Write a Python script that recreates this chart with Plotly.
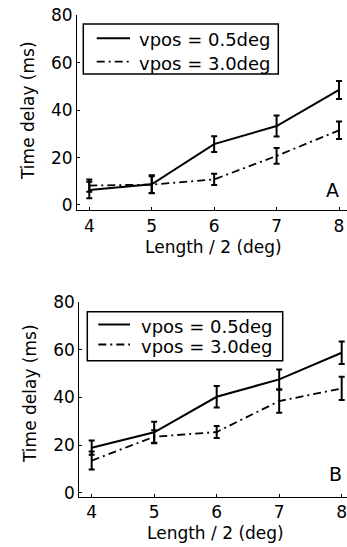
import plotly.graph_objects as go

# ---- data ----
lengths = [4, 5, 6, 7, 8]
ticks_y = [0, 20, 40, 60, 80]

a_solid = [6.3, 8.7, 25.7, 33.3, 48.5]
a_solid_err = [3.5, 3.8, 3.3, 4.4, 3.8]
a_dash = [8.2, 8.6, 10.8, 20.7, 31.5]
a_dash_err = [2.6, 3.5, 2.4, 3.3, 3.7]

b_solid = [18.9, 25.4, 40.3, 47.6, 58.8]
b_solid_err = [3.0, 4.4, 4.5, 4.2, 4.7]
b_dash = [13.5, 23.5, 25.5, 38.5, 43.8]
b_dash_err = [3.8, 2.7, 2.5, 4.9, 4.9]

label_solid = "vpos = 0.5deg"
label_dash = "vpos = 3.0deg"

FONT = "DejaVu Sans"
FS = 17
LFS = 18
DASH = "8px,4px,2px,4px"
W, H = 347, 547

fig = go.Figure()

def add(x, y, e, dash, name, xa, ya):
    fig.add_trace(go.Scatter(
        x=x, y=y, mode="lines", name=name,
        line=dict(color="black", width=2 if dash == "solid" else 1.8, dash=dash),
        error_y=dict(type="data", array=e, visible=True, color="black", thickness=2, width=3),
        xaxis=xa, yaxis=ya, showlegend=False))

add(lengths, a_solid, a_solid_err, "solid", label_solid, "x", "y")
add(lengths, a_dash, a_dash_err, DASH, label_dash, "x", "y")
add(lengths, b_solid, b_solid_err, "solid", label_solid, "x2", "y2")
add(lengths, b_dash, b_dash_err, DASH, label_dash, "x2", "y2")

axis_common = dict(showgrid=False, zeroline=False, showline=True, linecolor="black", linewidth=1,
                   ticks="inside", ticklen=3, tickcolor="black", mirror=False,
                   tickfont=dict(family=FONT, size=FS, color="black"), automargin=False,
                   ticklabeloverflow="allow")

fig.update_layout(
    width=W, height=H,
    margin=dict(l=0, r=0, t=0, b=0),
    paper_bgcolor="white", plot_bgcolor="white",
    font=dict(family=FONT, size=FS, color="black"),
    showlegend=False,
    xaxis=dict(domain=[77 / W, 1], range=[3.803, 8.128], tickvals=lengths, anchor="y", **axis_common),
    yaxis=dict(domain=[(H - 210.3) / H, (H - 15.3) / H], range=[-2.24, 80], tickvals=ticks_y, anchor="x", **axis_common),
    xaxis2=dict(domain=[79.3 / W, 1], range=[3.802, 8.085], tickvals=lengths, anchor="y2", **axis_common),
    yaxis2=dict(domain=[(H - 496.7) / H, (H - 302.3) / H], range=[-1.68, 80], tickvals=ticks_y, anchor="x2", **axis_common),
)

def px(x):
    return x / W

def py(y):
    return (H - y) / H

# legend boxes drawn in pixel positions (box, line samples, labels)
legends = [
    dict(box=(83.3, 24, 278.3, 74), lx=(96.7, 130), ly=(38.3, 61.7), tx=137, ty=(40, 64)),
    dict(box=(87.3, 311.7, 282.7, 360.7), lx=(98.3, 130), ly=(324.5, 344.5), tx=139, ty=(326.5, 346.5)),
]
for lg in legends:
    x0, y0, x1, y1 = lg["box"]
    fig.add_shape(type="rect", xref="paper", yref="paper", x0=px(x0), x1=px(x1), y0=py(y1), y1=py(y0),
                  line=dict(color="black", width=1.5), fillcolor="white", layer="above")
    for ly, dash, ty, lab in zip(lg["ly"], ["solid", DASH], lg["ty"], [label_solid, label_dash]):
        fig.add_shape(type="line", xref="paper", yref="paper", x0=px(lg["lx"][0]), x1=px(lg["lx"][1]),
                      y0=py(ly), y1=py(ly), line=dict(color="black", width=2 if dash == "solid" else 1.8, dash=dash),
                      layer="above")
        fig.add_annotation(text=lab, x=px(lg["tx"]), y=py(ty), xref="paper", yref="paper",
                           xanchor="left", yanchor="middle", showarrow=False,
                           font=dict(family=FONT, size=LFS, color="black"))

ann = [
    dict(text="Time delay (ms)", x=28, y=111, textangle=-90),
    dict(text="Time delay (ms)", x=30, y=394, textangle=-90),
    dict(text="Length / 2 (deg)", x=213, y=247),
    dict(text="Length / 2 (deg)", x=215, y=533),
    dict(text="A", x=332.5, y=190, size=19),
    dict(text="B", x=335, y=474, size=19),
]
for a in ann:
    fig.add_annotation(text=a["text"], x=px(a["x"]), y=py(a["y"]), xref="paper", yref="paper",
                       xanchor="center", yanchor="middle", showarrow=False,
                       textangle=a.get("textangle", 0),
                       font=dict(family=FONT, size=a.get("size", FS), color="black"))

fig.write_html("out.html", config={"displayModeBar": False},
               post_script="document.body.style.margin='0';document.body.style.overflow='hidden';")
